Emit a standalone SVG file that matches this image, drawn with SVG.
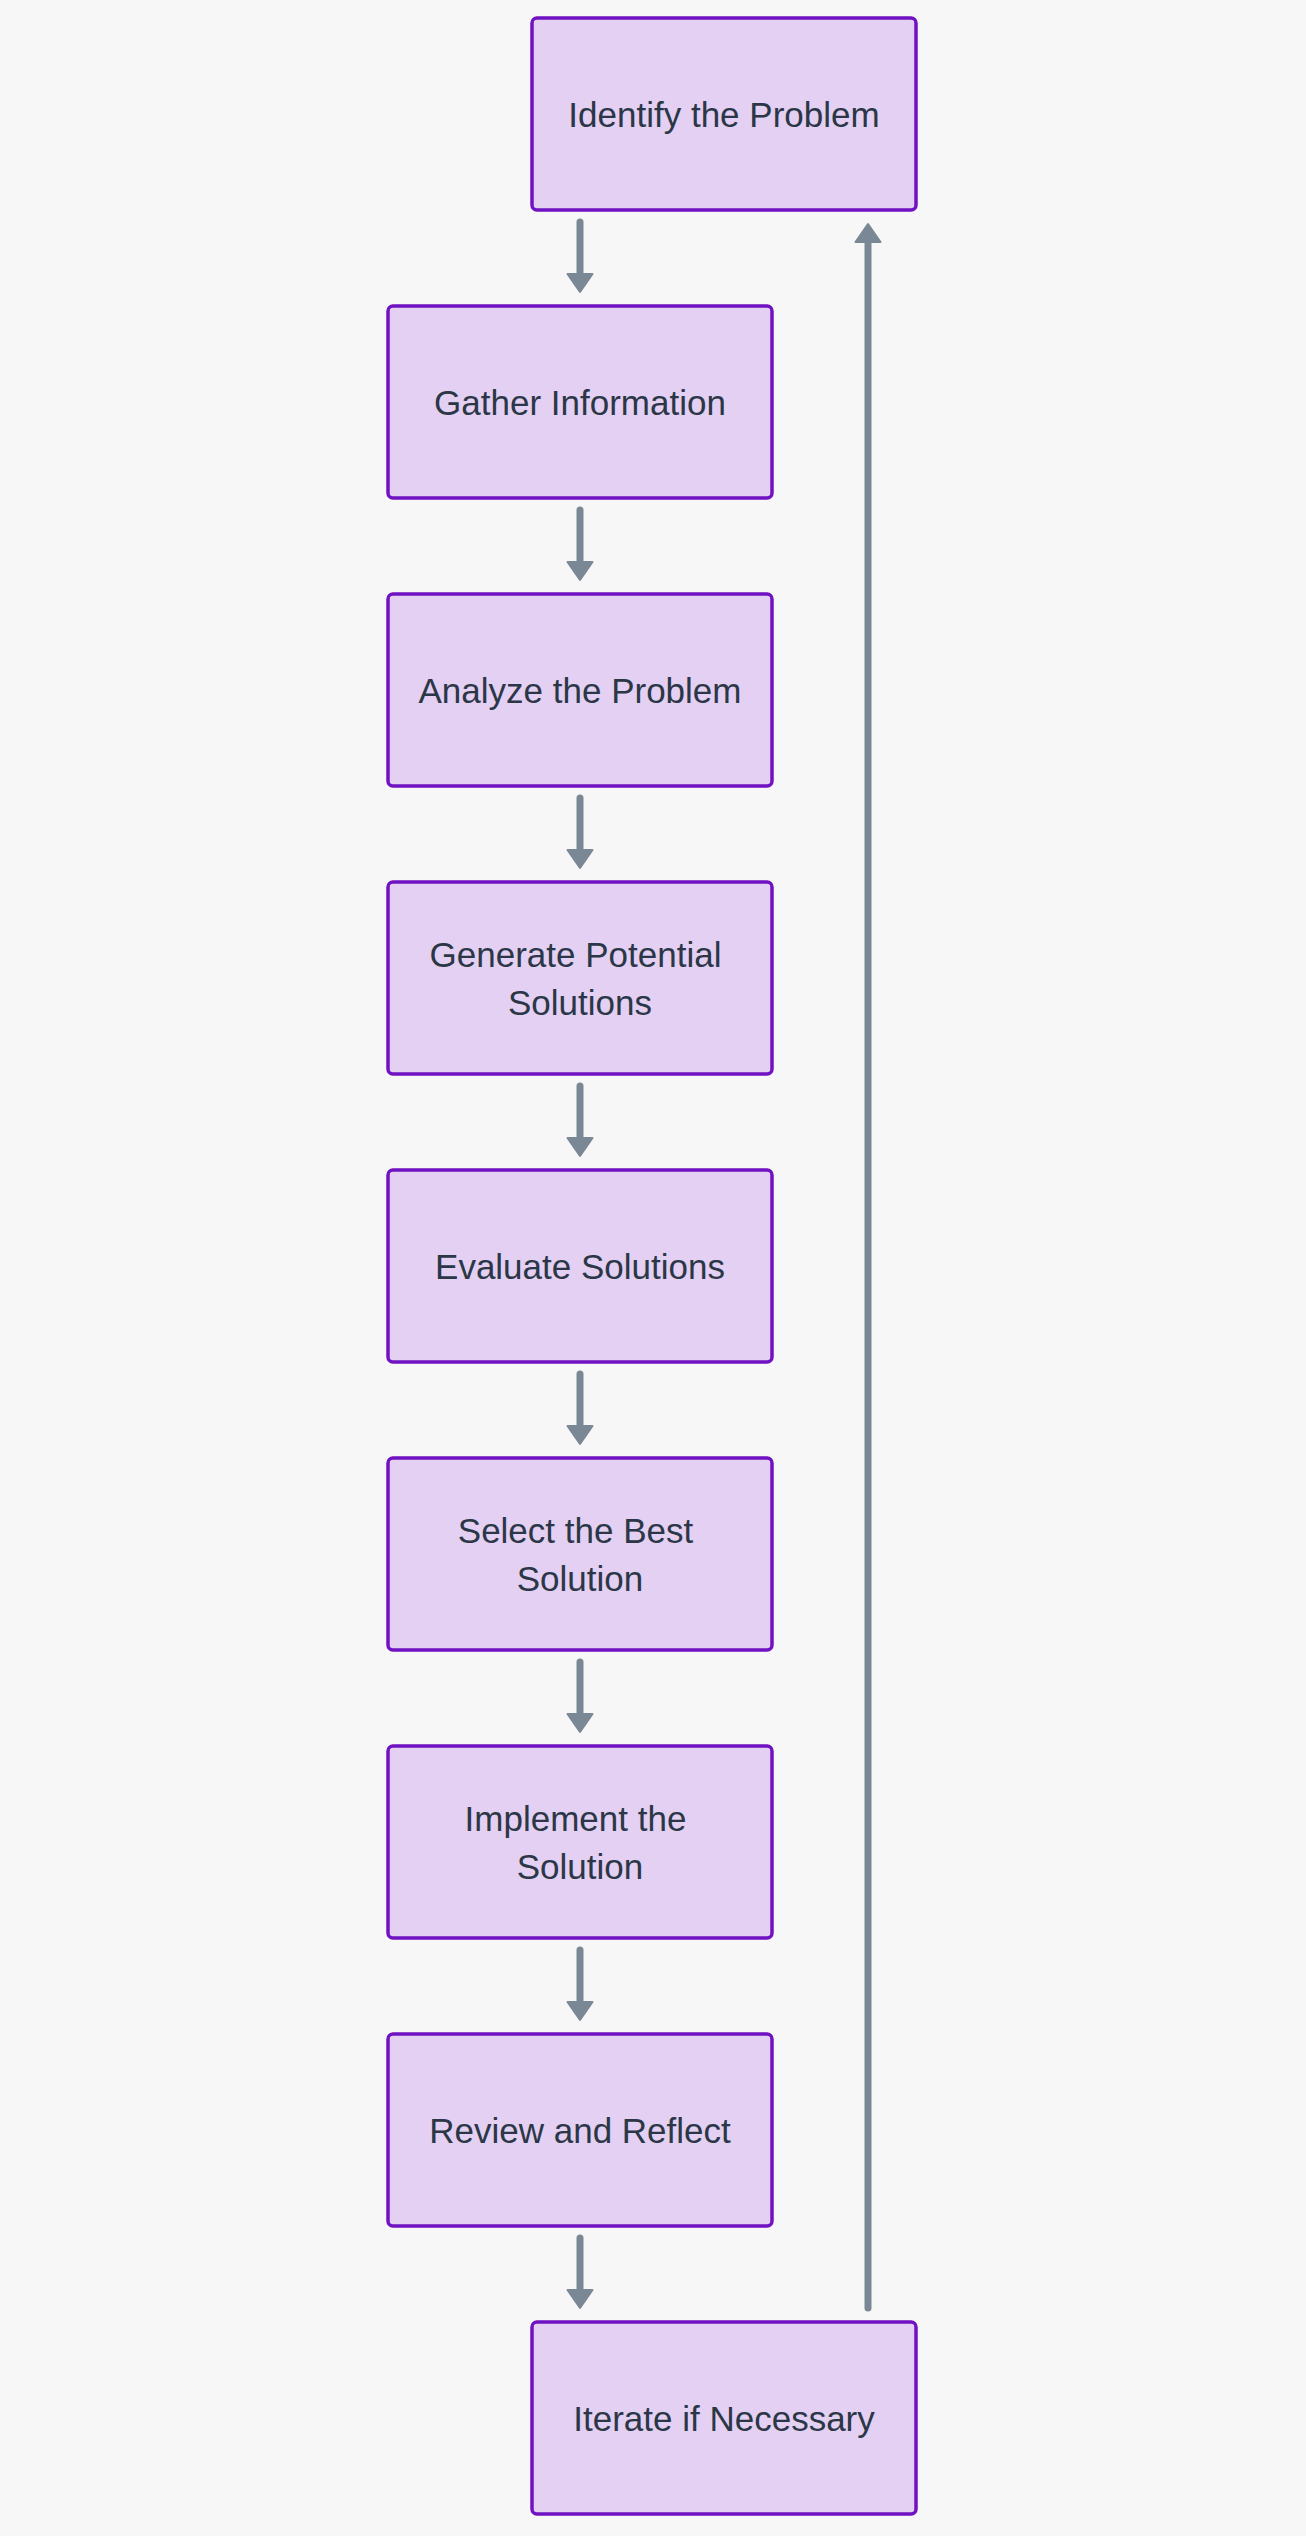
<svg xmlns="http://www.w3.org/2000/svg" width="1306" height="2536" viewBox="0 0 1306 2536">
<style>
.bg{fill:#f7f7f7}
.node rect{fill:#e3d0f3;stroke:#7012c2;stroke-width:3.5}
.node text{font-family:"Liberation Sans",Arial,sans-serif;font-size:35px;fill:#2b3746;text-anchor:middle}
.edge{fill:none;stroke:#7a8896;stroke-width:7;stroke-linecap:round}
</style>
<defs>
<marker id="ah" markerUnits="userSpaceOnUse" markerWidth="32" markerHeight="32" viewBox="-2 -2 32 32" refX="1" refY="13.5" orient="auto">
<path d="M1,1 L19,13.5 L1,26 Z" fill="#7a8896" stroke="#7a8896" stroke-width="2" stroke-linejoin="round"/>
</marker>
</defs>
<rect class="bg" x="0" y="0" width="1306" height="2536"/>
<g id="connectors">
<path class="edge" d="M580,222 L580,274" marker-end="url(#ah)"/>
<path class="edge" d="M580,510 L580,562" marker-end="url(#ah)"/>
<path class="edge" d="M580,798 L580,850" marker-end="url(#ah)"/>
<path class="edge" d="M580,1086 L580,1138" marker-end="url(#ah)"/>
<path class="edge" d="M580,1374 L580,1426" marker-end="url(#ah)"/>
<path class="edge" d="M580,1662 L580,1714" marker-end="url(#ah)"/>
<path class="edge" d="M580,1950 L580,2002" marker-end="url(#ah)"/>
<path class="edge" d="M580,2238 L580,2290" marker-end="url(#ah)"/>
<path class="edge" d="M868,2308 L868,242" marker-end="url(#ah)"/>
</g>
<g id="identify" class="node">
<rect x="532" y="18" width="384" height="192" rx="5"/>
<text x="724" y="127">Identify the Problem</text>
</g>
<g id="gather" class="node">
<rect x="388" y="306" width="384" height="192" rx="5"/>
<text x="580" y="415">Gather Information</text>
</g>
<g id="analyze" class="node">
<rect x="388" y="594" width="384" height="192" rx="5"/>
<text x="580" y="703">Analyze the Problem</text>
</g>
<g id="generate" class="node">
<rect x="388" y="882" width="384" height="192" rx="5"/>
<text x="575.5" y="967">Generate Potential</text>
<text x="580" y="1015">Solutions</text>
</g>
<g id="evaluate" class="node">
<rect x="388" y="1170" width="384" height="192" rx="5"/>
<text x="580" y="1279">Evaluate Solutions</text>
</g>
<g id="select" class="node">
<rect x="388" y="1458" width="384" height="192" rx="5"/>
<text x="575.5" y="1543">Select the Best</text>
<text x="580" y="1591">Solution</text>
</g>
<g id="implement" class="node">
<rect x="388" y="1746" width="384" height="192" rx="5"/>
<text x="575.5" y="1831">Implement the</text>
<text x="580" y="1879">Solution</text>
</g>
<g id="review" class="node">
<rect x="388" y="2034" width="384" height="192" rx="5"/>
<text x="580" y="2143">Review and Reflect</text>
</g>
<g id="iterate" class="node">
<rect x="532" y="2322" width="384" height="192" rx="5"/>
<text x="724" y="2431">Iterate if Necessary</text>
</g>
</svg>
